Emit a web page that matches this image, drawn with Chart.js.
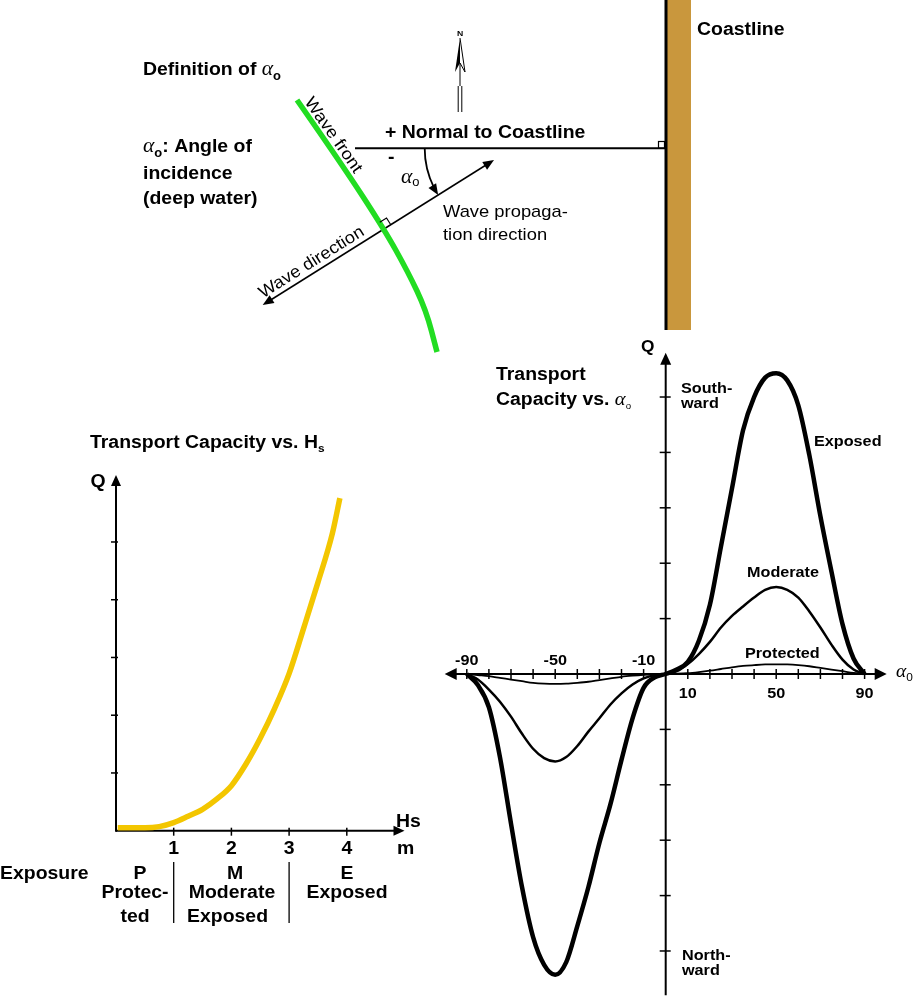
<!DOCTYPE html>
<html>
<head>
<meta charset="utf-8">
<script src="https://cdn.jsdelivr.net/npm/chart.js@4.4.0/dist/chart.umd.min.js"></script>
<style>
  body { margin: 0; background: #fff; }
  #wrap { position: relative; width: 915px; height: 1008px; }
  #wrap canvas { position: absolute; left: 0; top: 0; }
</style>
</head>
<body>
<div id="wrap">
  <canvas id="hsChart" width="915" height="1008"></canvas>
  <canvas id="alphaChart" width="915" height="1008"></canvas>
</div>
<script>
// Transport capacity vs. Hs (left chart)
const hsValues = [0.03, 0.5, 0.75, 1.0, 1.25, 1.5, 1.75, 2.0, 2.25, 2.5, 2.75, 3.0, 3.25, 3.5, 3.75, 3.88];
const qHs      = [0.05, 0.05, 0.07, 0.14, 0.25, 0.37, 0.55, 0.78, 1.15, 1.6, 2.12, 2.72, 3.5, 4.3, 5.15, 5.76];
const hsTicks = [1, 2, 3, 4];
const hsTickLabels = ['1', '2', '3', '4'];
const qTicksLeft = [1, 2, 3, 4, 5];

// Transport capacity vs. alpha0 (right chart)
const alphaDeg = [-90, -85, -80, -75, -70, -65, -60, -55, -50, -45, -40, -35, -30, -25, -20, -15, -10, -5, 0,
                  5, 10, 15, 20, 25, 30, 35, 40, 45, 50, 55, 60, 65, 70, 75, 80, 85, 90];
const exposedQ = [0, -0.2, -0.6, -1.5, -2.7, -3.85, -4.75, -5.25, -5.43, -5.2, -4.55, -3.85, -3.05, -2.35, -1.55, -0.8, -0.25, -0.06, 0,
                  0.08, 0.22, 0.6, 1.25, 2.3, 3.35, 4.4, 5.0, 5.35, 5.43, 5.3, 4.85, 3.95, 2.85, 1.85, 0.9, 0.28, 0];
const moderateQ = [0, -0.1, -0.28, -0.5, -0.77, -1.08, -1.35, -1.52, -1.58, -1.5, -1.3, -1.04, -0.8, -0.55, -0.35, -0.19, -0.08, -0.02, 0,
                   0.05, 0.18, 0.36, 0.58, 0.84, 1.05, 1.22, 1.38, 1.52, 1.57, 1.52, 1.38, 1.13, 0.84, 0.53, 0.26, 0.08, 0];
const protectedQ = [0, -0.02, -0.04, -0.07, -0.1, -0.13, -0.16, -0.175, -0.18, -0.175, -0.16, -0.14, -0.11, -0.08, -0.05, -0.03, -0.015, -0.005, 0,
                    0.005, 0.015, 0.035, 0.06, 0.09, 0.12, 0.145, 0.16, 0.172, 0.175, 0.172, 0.16, 0.14, 0.11, 0.08, 0.05, 0.02, 0];
const alphaTicks = [-90, -80, -70, -60, -50, -40, -30, -20, -10, 10, 20, 30, 40, 50, 60, 70, 80, 90];
const alphaLabelsAbove = [-90, -50, -10];
const alphaLabelsBelow = [10, 50, 90];
const qTicksRight = [-5, -4, -3, -2, -1, 1, 2, 3, 4, 5];

const SX = 1.08; // the original lettering is a bit wider than Arial
const SANS = '"Liberation Sans", Arial, Helvetica, sans-serif';
const SERIF = '"Liberation Serif", "DejaVu Serif", serif';
const B18 = 'bold 18px ' + SANS;
const B15 = 'bold 15px ' + SANS;
const R17 = '17px ' + SANS;
const ALPHA = 'italic 20px ' + SERIF;

// text made of several runs: [text, font, dy]
function runs(ctx, x, y, parts, align) {
  ctx.save();
  ctx.textAlign = 'left';
  ctx.textBaseline = 'alphabetic';
  let total = 0;
  parts.forEach(p => { ctx.font = p[1]; total += ctx.measureText(p[0]).width * SX; });
  let cx = align === 'center' ? x - total / 2 : x;
  parts.forEach(p => {
    ctx.font = p[1];
    ctx.save();
    ctx.translate(cx, y + (p[2] || 0));
    ctx.scale(SX, 1);
    ctx.fillText(p[0], 0, 0);
    ctx.restore();
    cx += ctx.measureText(p[0]).width * SX;
  });
  ctx.restore();
}

function label(ctx, text, x, y, font, align) {
  runs(ctx, x, y, [[text, font, 0]], align);
}

function rotLabel(ctx, text, x, y, angle, font) {
  ctx.save();
  ctx.translate(x, y);
  ctx.rotate(angle);
  label(ctx, text, 0, 0, font);
  ctx.restore();
}

function seg(ctx, x1, y1, x2, y2) {
  ctx.beginPath();
  ctx.moveTo(x1, y1);
  ctx.lineTo(x2, y2);
  ctx.stroke();
}

function arrowHead(ctx, x, y, ang, len, half) {
  ctx.save();
  ctx.translate(x, y);
  ctx.rotate(ang);
  ctx.beginPath();
  ctx.moveTo(0, 0);
  ctx.lineTo(-len, -half);
  ctx.lineTo(-len, half);
  ctx.closePath();
  ctx.fill();
  ctx.restore();
}

// definition sketch at the top
function drawDiagram(ctx) {
  ctx.save();
  ctx.fillStyle = '#000';
  ctx.strokeStyle = '#000';

  // coastline
  ctx.fillStyle = '#C9973D';
  ctx.fillRect(667, 0, 24, 330);
  ctx.fillStyle = '#000';
  ctx.fillRect(664.5, 0, 3, 330);
  label(ctx, 'Coastline', 697, 35, B18);

  // north arrow
  ctx.lineWidth = 1;
  ctx.beginPath();
  ctx.moveTo(460, 38); ctx.lineTo(455, 72); ctx.lineTo(460, 63); ctx.closePath();
  ctx.fill();
  ctx.beginPath();
  ctx.moveTo(460, 38); ctx.lineTo(465, 72); ctx.lineTo(460, 63);
  ctx.stroke();
  seg(ctx, 460, 63, 460, 86);
  seg(ctx, 458.2, 86, 458.2, 112);
  seg(ctx, 461.8, 86, 461.8, 112);
  label(ctx, 'N', 460, 36, 'bold 8px ' + SANS, 'center');

  // normal to coastline
  ctx.lineWidth = 2;
  seg(ctx, 355, 148.3, 665, 148.3);
  ctx.lineWidth = 1.2;
  ctx.strokeRect(658.5, 141.5, 6, 6.8);
  label(ctx, '+ Normal to Coastline', 385, 138, B18);
  label(ctx, '-', 388, 163, B18);

  // wave direction line with both arrowheads
  const wx1 = 262.7, wy1 = 305, wx2 = 494, wy2 = 160;
  const wAng = Math.atan2(wy2 - wy1, wx2 - wx1);
  ctx.lineWidth = 1.5;
  seg(ctx, wx1 + 8 * Math.cos(wAng), wy1 + 8 * Math.sin(wAng), wx2 - 8 * Math.cos(wAng), wy2 - 8 * Math.sin(wAng));
  arrowHead(ctx, wx2, wy2, wAng, 11, 4.5);
  arrowHead(ctx, wx1, wy1, wAng + Math.PI, 11, 4.5);

  // angle arc
  const acx = 512.7, acy = 148.3, ar = 88;
  const th = Math.PI + wAng;
  ctx.lineWidth = 1.8;
  ctx.beginPath();
  ctx.arc(acx, acy, ar, Math.PI, th + 0.1, true);
  ctx.stroke();
  arrowHead(ctx, acx + ar * Math.cos(th), acy + ar * Math.sin(th), Math.atan2(-Math.cos(th), Math.sin(th)), 11, 4.5);
  runs(ctx, 401, 183, [['\u03B1', ALPHA, 0], ['o', '12px ' + SANS, 3]]);

  // wave front
  ctx.strokeStyle = '#22DD22';
  ctx.lineWidth = 5.5;
  const gp = [[297, 100], [341, 163], [384, 229], [408, 272], [426, 310], [437, 352]];
  ctx.beginPath();
  ctx.moveTo(gp[0][0], gp[0][1]);
  for (let i = 1; i < gp.length - 1; i++) {
    const mx = (gp[i][0] + gp[i + 1][0]) / 2, my = (gp[i][1] + gp[i + 1][1]) / 2;
    ctx.quadraticCurveTo(gp[i][0], gp[i][1], mx, my);
  }
  ctx.lineTo(gp[gp.length - 1][0], gp[gp.length - 1][1]);
  ctx.stroke();

  // right angle at the wave front
  ctx.strokeStyle = '#000';
  ctx.lineWidth = 1.2;
  const ix = 384, iy = 229;
  const dx = Math.cos(wAng), dy = Math.sin(wAng);
  const ux = dy, uy = -dx;
  ctx.beginPath();
  ctx.moveTo(ix + dx * 8, iy + dy * 8);
  ctx.lineTo(ix + dx * 8 + ux * 8, iy + dy * 8 + uy * 8);
  ctx.lineTo(ix + ux * 8, iy + uy * 8);
  ctx.stroke();

  rotLabel(ctx, 'Wave front', 304, 102, 0.96, R17);
  rotLabel(ctx, 'Wave direction', 263, 298.5, wAng, R17);
  label(ctx, 'Wave propaga-', 443, 217, R17);
  label(ctx, 'tion direction', 443, 240, R17);

  // left notes
  runs(ctx, 143, 75, [['Definition of ', B18, 0], ['\u03B1', ALPHA, 0], ['o', 'bold 12px ' + SANS, 5]]);
  runs(ctx, 143, 152, [['\u03B1', ALPHA, 0], ['o', 'bold 12px ' + SANS, 5], [': Angle of', B18, 0]]);
  label(ctx, 'incidence', 143, 179, B18);
  label(ctx, '(deep water)', 143, 204, B18);
  ctx.restore();
}

const hsPlugin = {
  id: 'hsAxes',
  beforeDatasetsDraw(chart) {
    const ctx = chart.ctx, xs = chart.scales.x, ys = chart.scales.y;
    const x0 = xs.getPixelForValue(0), y0 = ys.getPixelForValue(0);
    const xEnd = xs.getPixelForValue(xs.max), yTop = ys.getPixelForValue(ys.max);
    ctx.save();
    ctx.strokeStyle = '#000';
    ctx.fillStyle = '#000';
    ctx.lineWidth = 2;
    seg(ctx, x0, y0, xEnd - 8, y0);
    seg(ctx, x0, y0 + 1, x0, yTop + 8);
    arrowHead(ctx, xEnd, y0, 0, 11, 5);
    arrowHead(ctx, x0, yTop, -Math.PI / 2, 11, 5);
    ctx.lineWidth = 1.5;
    hsTicks.forEach(v => {
      const px = xs.getPixelForValue(v);
      seg(ctx, px, y0 - 3, px, y0 + 5);
    });
    qTicksLeft.forEach(v => {
      const py = ys.getPixelForValue(v);
      seg(ctx, x0 - 5, py, x0 + 2, py);
    });
    ctx.restore();
  },
  afterDraw(chart) {
    const ctx = chart.ctx, xs = chart.scales.x, ys = chart.scales.y;
    const y0 = ys.getPixelForValue(0);
    ctx.save();
    ctx.fillStyle = '#000';
    runs(ctx, 90, 448, [['Transport Capacity vs. H', B18, 0], ['s', 'bold 11px ' + SANS, 4]]);
    label(ctx, 'Q', 98, 487, B18, 'center');
    label(ctx, 'Hs', 396, y0 - 4, B18);
    label(ctx, 'm', 397, y0 + 23, B18);
    hsTicks.forEach((v, i) => label(ctx, hsTickLabels[i], xs.getPixelForValue(v), y0 + 23, B18, 'center'));
    label(ctx, 'Exposure', 0, 879, B18);
    label(ctx, 'P', 140, 879, B18, 'center');
    label(ctx, 'Protec-', 135, 898, B18, 'center');
    label(ctx, 'ted', 135, 922, B18, 'center');
    label(ctx, 'M', 235, 879, B18, 'center');
    label(ctx, 'Moderate', 232, 898, B18, 'center');
    label(ctx, 'Exposed', 187, 922, B18);
    label(ctx, 'E', 347, 879, B18, 'center');
    label(ctx, 'Exposed', 347, 898, B18, 'center');
    ctx.strokeStyle = '#000';
    ctx.lineWidth = 1.3;
    [1, 3].forEach(v => {
      const px = xs.getPixelForValue(v);
      seg(ctx, px, 862, px, 923);
    });
    ctx.restore();
  }
};

const alphaPlugin = {
  id: 'alphaAxes',
  beforeDatasetsDraw(chart) {
    const ctx = chart.ctx, xs = chart.scales.x, ys = chart.scales.y;
    const x0 = xs.getPixelForValue(0), y0 = ys.getPixelForValue(0);
    const xl = xs.getPixelForValue(xs.min), xr = xs.getPixelForValue(xs.max);
    const yt = ys.getPixelForValue(ys.max), yb = ys.getPixelForValue(ys.min);
    ctx.save();
    ctx.strokeStyle = '#000';
    ctx.fillStyle = '#000';
    ctx.lineWidth = 2;
    seg(ctx, xl + 8, y0, xr - 8, y0);
    seg(ctx, x0, yb, x0, yt + 8);
    arrowHead(ctx, xr, y0, 0, 12, 6);
    arrowHead(ctx, xl, y0, Math.PI, 12, 6);
    arrowHead(ctx, x0, yt, -Math.PI / 2, 12, 5.5);
    ctx.lineWidth = 1.5;
    alphaTicks.forEach(v => {
      const px = xs.getPixelForValue(v);
      seg(ctx, px, y0 - 5, px, y0 + 5);
    });
    qTicksRight.forEach(v => {
      const py = ys.getPixelForValue(v);
      seg(ctx, x0 - 6, py, x0 + 5, py);
    });
    ctx.restore();
  },
  afterDraw(chart) {
    const ctx = chart.ctx, xs = chart.scales.x, ys = chart.scales.y;
    const x0 = xs.getPixelForValue(0), y0 = ys.getPixelForValue(0);
    ctx.save();
    ctx.fillStyle = '#000';
    alphaLabelsAbove.forEach(v => label(ctx, String(v), xs.getPixelForValue(v), y0 - 9, B15, 'center'));
    alphaLabelsBelow.forEach(v => label(ctx, String(v), xs.getPixelForValue(v), y0 + 24, B15, 'center'));
    runs(ctx, 896, y0 + 3, [['\u03B1', 'italic 18px ' + SERIF, 0], ['0', '11px ' + SANS, 4]]);
    label(ctx, 'Q', x0 - 18, 352, 'bold 16px ' + SANS, 'center');
    label(ctx, 'Transport', 496, 380, B18);
    runs(ctx, 496, 405, [['Capacity vs. ', B18, 0], ['\u03B1', 'italic 19px ' + SERIF, 0], ['o', '9px ' + SANS, 4]]);
    label(ctx, 'South-', 681, 393, B15);
    label(ctx, 'ward', 681, 408, B15);
    label(ctx, 'Exposed', 814, 446, B15);
    label(ctx, 'Moderate', 747, 577, B15);
    label(ctx, 'Protected', 745, 658, B15);
    label(ctx, 'North-', 682, 960, B15);
    label(ctx, 'ward', 682, 975, B15);
    drawDiagram(ctx);
    ctx.restore();
  }
};

function points(xs, ys) {
  return xs.map((x, i) => ({ x: x, y: ys[i] }));
}

new Chart(document.getElementById('hsChart'), {
  type: 'line',
  data: {
    datasets: [{
      label: 'Q vs Hs',
      data: points(hsValues, qHs),
      borderColor: '#F3C600',
      borderWidth: 5.5,
      pointRadius: 0,
      cubicInterpolationMode: 'monotone',
      clip: false
    }]
  },
  options: {
    responsive: false,
    animation: false,
    devicePixelRatio: 1,
    layout: { padding: { left: 116, right: 510.5, top: 475, bottom: 177.3 } },
    plugins: { legend: { display: false }, tooltip: { enabled: false } },
    scales: {
      x: { type: 'linear', min: 0, max: 5, display: false },
      y: { type: 'linear', min: 0, max: 6.16, display: false }
    }
  },
  plugins: [hsPlugin]
});

new Chart(document.getElementById('alphaChart'), {
  type: 'line',
  data: {
    datasets: [
      { label: 'Exposed', data: points(alphaDeg, exposedQ), borderColor: '#000', borderWidth: 4.5 },
      { label: 'Moderate', data: points(alphaDeg, moderateQ), borderColor: '#000', borderWidth: 2.5 },
      { label: 'Protected', data: points(alphaDeg, protectedQ), borderColor: '#000', borderWidth: 1.8 }
    ].map(d => Object.assign(d, { pointRadius: 0, cubicInterpolationMode: 'monotone', clip: false }))
  },
  options: {
    responsive: false,
    animation: false,
    devicePixelRatio: 1,
    layout: { padding: { left: 444.7, right: 28.3, top: 352.7, bottom: 12.7 } },
    plugins: { legend: { display: false }, tooltip: { enabled: false } },
    scales: {
      x: { type: 'linear', min: -100, max: 100, display: false },
      y: { type: 'linear', min: -5.8, max: 5.8, display: false }
    }
  },
  plugins: [alphaPlugin]
});
</script>
</body>
</html>
